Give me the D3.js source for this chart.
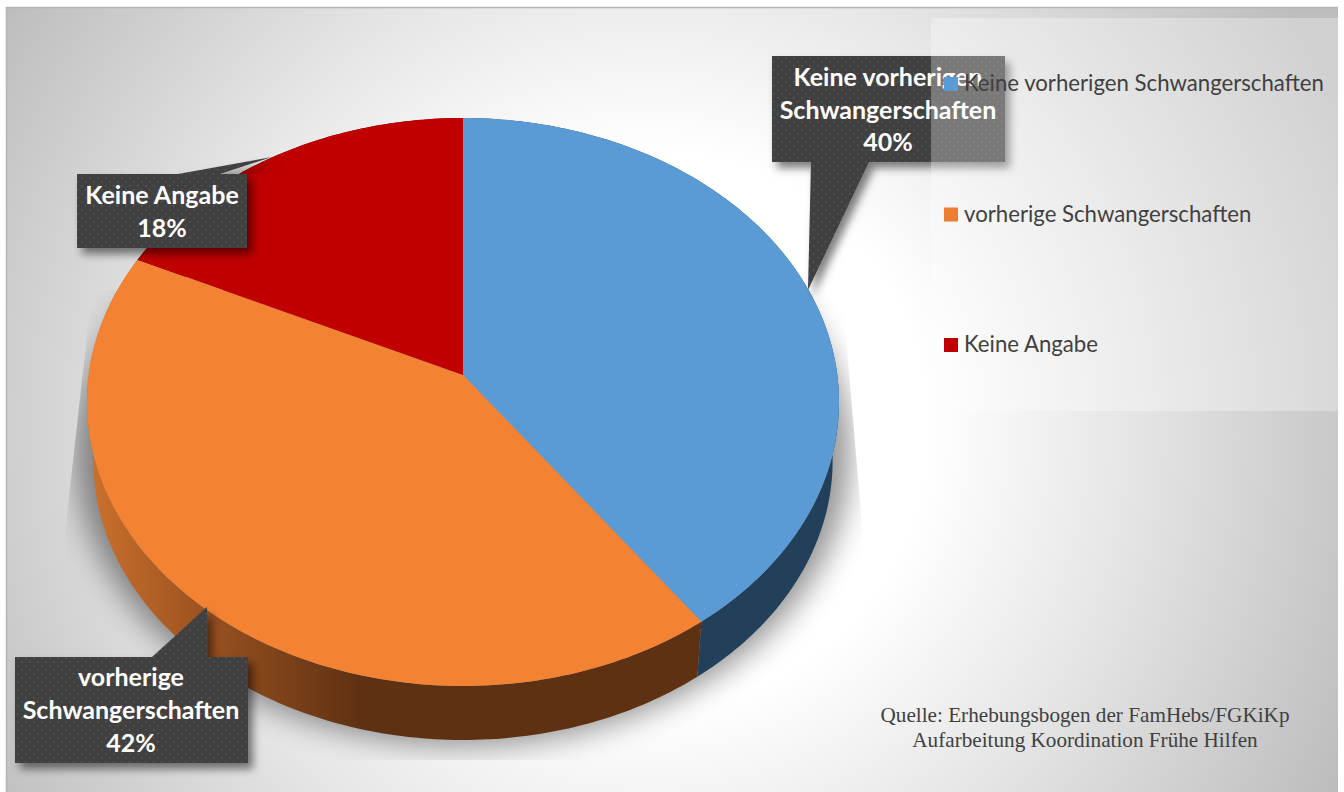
<!DOCTYPE html>
<html><head><meta charset="utf-8">
<script src="https://cdn.jsdelivr.net/npm/d3@7/dist/d3.min.js"></script>
<style>html,body{margin:0;padding:0;background:#fff}svg{display:block}</style></head>
<body><svg id="c" width="1344" height="792"></svg>
<script>
const categories = ["Keine vorherigen Schwangerschaften", "vorherige Schwangerschaften", "Keine Angabe"];
const values = [40, 42, 18];
const colors = ["#5B9BD5", "#F48233", "#C00000"];
const legendColors = ["#5B9BD5", "#ED7D31", "#C00000"];
const labelLines = [["Keine vorherigen", "Schwangerschaften", "40%"], ["vorherige", "Schwangerschaften", "42%"], ["Keine Angabe", "18%"]];
const sourceLines = ["Quelle: Erhebungsbogen der FamHebs/FGKiKp", "Aufarbeitung Koordination Frühe Hilfen"];

const svg = d3.select("#c");
const defs = svg.append("defs");

// backdrop gradient
const bg = defs.append("radialGradient").attr("id", "bg").attr("gradientUnits", "userSpaceOnUse")
  .attr("cx", 650).attr("cy", 430).attr("r", 770);
[[0, "#fff"], [.36, "#fff"], [.62, "#e6e6e6"], [1, "#bdbdbd"]].forEach(s => bg.append("stop").attr("offset", s[0]).attr("stop-color", s[1]));

const side = defs.append("linearGradient").attr("id", "sideOrange").attr("gradientUnits", "userSpaceOnUse")
  .attr("x1", 95).attr("x2", 360).attr("y1", 0).attr("y2", 0);
[[0, "#C96F2C"], [.45, "#97501F"], [1, "#5F3113"]].forEach(s => side.append("stop").attr("offset", s[0]).attr("stop-color", s[1]));

const dots = defs.append("pattern").attr("id", "dots").attr("patternUnits", "userSpaceOnUse")
  .attr("width", 8).attr("height", 8);
dots.append("rect").attr("width", 8).attr("height", 8).attr("fill", "#404040");
dots.append("rect").attr("x", 1).attr("y", 1).attr("width", 1.5).attr("height", 1.5).attr("fill", "#585858");
dots.append("rect").attr("x", 5).attr("y", 5).attr("width", 1.5).attr("height", 1.5).attr("fill", "#585858");

defs.append("filter").attr("id", "blur").attr("x", "-20%").attr("y", "-20%").attr("width", "140%").attr("height", "140%")
  .append("feGaussianBlur").attr("stdDeviation", 15);
const ds = defs.append("filter").attr("id", "ds").attr("x", "-20%").attr("y", "-20%").attr("width", "140%").attr("height", "140%");
ds.append("feDropShadow").attr("dx", 5).attr("dy", 6).attr("stdDeviation", 4).attr("flood-color", "#000").attr("flood-opacity", .5);
defs.append("clipPath").attr("id", "shadowClip").append("path")
  .attr("d", "M92,290L62,560V760H865V560L842,290Z");

// frame
svg.append("rect").attr("x", 6).attr("y", 7).attr("width", 1332).attr("height", 785).attr("fill", "url(#bg)");
svg.append("path").attr("d", "M6.5,792V7.5H1338").attr("fill", "none").attr("stroke", "#b4b4b4").attr("stroke-width", 1.5);

// perspective pie projection
const rScale = d3.scaleLinear().domain([0, 1]).range([0, 1]);
const k = 0.0951, A = 374.3, B = 281.4, cx = 463, cy = 375;
function project(theta, s, dy) {
  const u = Math.sin(theta), v = -Math.cos(theta), w = 1 - k * v, r = rScale(s);
  return [cx + r * A * u / w, cy + dy + r * B * v / w];
}
const arcs = d3.pie().sort(null).value(d => d)(values);
const line = d3.line();
const sweep = (a, b, s, dy) => {
  const n = Math.max(2, Math.ceil(Math.abs(b - a) * 60));
  return d3.range(n + 1).map(i => project(a + (b - a) * i / n, s, dy));
};
const full = (s, dy) => line(sweep(0, 2 * Math.PI, s, dy)) + "Z";

// shadow
svg.append("g").attr("clip-path", "url(#shadowClip)")
  .append("path").attr("d", full(1.03, 50)).attr("fill", "#000").attr("opacity", .42).attr("filter", "url(#blur)");

// sides
const LOW = 0.983, DROP = 59.3;
const sideFill = ["#22405A", "url(#sideOrange)", "#600000"];
svg.append("g").selectAll("path").data(arcs).join("path")
  .attr("d", d => line(sweep(d.startAngle, d.endAngle, 1, 0).concat(sweep(d.endAngle, d.startAngle, LOW, DROP))) + "Z")
  .attr("fill", (d, i) => sideFill[i]);

// top face
svg.append("g").selectAll("path").data(arcs).join("path")
  .attr("d", d => line([[cx, cy]].concat(sweep(d.startAngle, d.endAngle, 1, 0))) + "Z")
  .attr("fill", (d, i) => colors[i]);

// callouts
const boxes = [
  {x: 772, y: 56, w: 233, h: 106, ptr: [[811, 162], [808, 290], [869, 162]], tx: 888, ys: [86, 119, 151]},
  {x: 15, y: 657, w: 233, h: 106, ptr: [[152, 657], [207, 607], [208, 657]], tx: 131, ys: [686, 719, 752]},
  {x: 77, y: 174, w: 170, h: 74, ptr: [[178, 174], [272, 157], [220, 174]], tx: 162, ys: [204, 237]}
];
const calls = svg.append("g").selectAll("g").data(boxes).join("g");
calls.append("path").attr("filter", "url(#ds)").attr("fill", "url(#dots)")
  .attr("d", b => {
    const [p, q, r] = b.ptr;
    if (b.y === 56) return `M${b.x},${b.y}h${b.w}v${b.h}H${r[0]}L${q[0]},${q[1]}L${p[0]},${p[1]}H${b.x}Z`;
    return `M${b.x},${b.y}H${p[0]}L${q[0]},${q[1]}L${r[0]},${r[1]}H${b.x + b.w}v${b.h}H${b.x}Z`;
  });

// legend panel sits over the first callout
svg.append("rect").attr("x", 931).attr("y", 18).attr("width", 407).attr("height", 393).attr("fill", "#fff").attr("opacity", .3);

calls.each(function (b, i) {
  d3.select(svg.node()).append("g").selectAll("text").data(labelLines[i]).join("text")
    .attr("x", b.tx).attr("y", (d, j) => b.ys[j]).attr("text-anchor", "middle")
    .attr("font-family", "Lato, 'Noto Sans', sans-serif").attr("font-weight", 700).attr("font-size", 25)
    .attr("fill", "#fff").text(d => d);
});

// legend
const legendY = d3.scalePoint().domain(categories).range([84, 345]);
const leg = svg.append("g").selectAll("g").data(categories).join("g")
  .attr("transform", d => `translate(944,${legendY(d)})`);
leg.append("rect").attr("y", -7).attr("width", 14).attr("height", 14).attr("fill", (d, i) => legendColors[i]);
leg.append("text").attr("x", 20).attr("y", 7).attr("font-family", "Lato, 'Noto Sans', sans-serif")
  .attr("font-size", 22.2).attr("fill", "#404040").text(d => d);

// source
svg.append("g").selectAll("text").data(sourceLines).join("text")
  .attr("x", 1085).attr("y", (d, i) => 722 + i * 24.5).attr("text-anchor", "middle")
  .attr("font-family", "'Liberation Serif', serif").attr("font-size", 21.2).attr("fill", "#404040").text(d => d);
</script></body></html>
